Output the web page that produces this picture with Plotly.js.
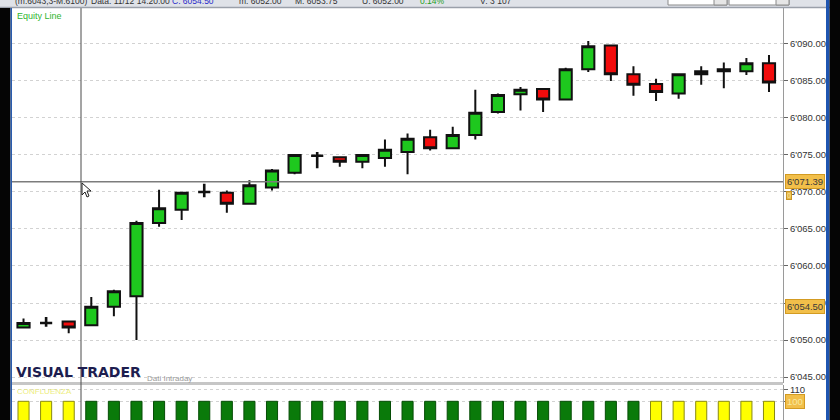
<!DOCTYPE html>
<html>
<head>
<meta charset="utf-8">
<script src="https://cdn.plot.ly/plotly-3.0.1.min.js"></script>
<style>
  html, body { margin: 0; padding: 0; background: #ffffff; }
  #chart { width: 840px; height: 420px; }
</style>
</head>
<body>
<div id="chart"></div>
<script>
// 5-minute bars of the session
const times = ['14:05','14:10','14:15','14:20','14:25','14:30','14:35','14:40','14:45','14:50','14:55',
               '15:00','15:05','15:10','15:15','15:20','15:25','15:30','15:35','15:40','15:45','15:50','15:55',
               '16:00','16:05','16:10','16:15','16:20','16:25','16:30','16:35','16:40','16:45','16:50'];

const open  = [6051.7, 6052.3, 6052.5, 6052.0, 6054.5, 6055.9, 6065.8, 6067.6, 6070.0, 6069.9, 6068.4,
               6070.6, 6072.6, 6074.9, 6074.7, 6074.1, 6074.6, 6075.4, 6077.4, 6075.9, 6077.7, 6080.8,
               6083.2, 6083.9, 6082.5, 6086.6, 6089.8, 6085.9, 6084.6, 6083.3, 6085.9, 6086.3, 6086.3, 6087.4];
const high  = [6052.9, 6053.1, 6052.5, 6055.8, 6056.8, 6066.1, 6070.3, 6070.0, 6071.1, 6070.2, 6071.6,
               6073.1, 6075.1, 6075.4, 6074.8, 6075.1, 6077.1, 6077.9, 6078.4, 6078.8, 6083.8, 6083.3,
               6084.2, 6084.0, 6086.8, 6090.4, 6089.9, 6087.0, 6085.3, 6086.0, 6087.0, 6087.5, 6088.1, 6088.5];
const low   = [6051.6, 6051.8, 6050.9, 6052.0, 6053.2, 6050.0, 6065.3, 6066.2, 6069.3, 6067.2, 6068.4,
               6070.2, 6072.4, 6073.2, 6073.4, 6073.2, 6073.4, 6072.4, 6075.6, 6075.8, 6077.1, 6080.6,
               6081.0, 6080.8, 6082.5, 6086.2, 6085.0, 6083.0, 6082.3, 6082.6, 6084.5, 6084.0, 6085.8, 6083.5];
const close = [6052.3, 6052.3, 6051.7, 6054.5, 6056.6, 6065.8, 6067.8, 6069.9, 6070.0, 6068.4, 6070.9,
               6072.9, 6075.0, 6074.9, 6074.1, 6075.0, 6075.7, 6077.2, 6075.9, 6077.7, 6080.7, 6083.1,
               6083.8, 6082.5, 6086.6, 6089.7, 6085.9, 6084.5, 6083.5, 6085.9, 6086.3, 6086.6, 6087.4, 6084.8];

// Confluence indicator (lower panel)
const confluenceLevel  = [100, 100, 100, 100, 100, 100, 100, 100, 100, 100, 100, 100, 100, 100, 100, 100, 100,
                          100, 100, 100, 100, 100, 100, 100, 100, 100, 100, 100, 100, 100, 100, 100, 100, 100];
const confluenceSignal = ['flat','flat','flat','long','long','long','long','long','long','long','long','long',
                          'long','long','long','long','long','long','long','long','long','long','long','long',
                          'long','long','long','long','flat','flat','flat','flat','flat','flat'];

// Price axis ticks and cursor readings
const priceTicks  = [6045, 6050, 6055, 6060, 6065, 6070, 6075, 6080, 6085, 6090];
const cursorPrice = 6071.39;
const cursorBar   = 3;            // bar under the vertical cursor (14:20)

// ---- geometry helpers (pixel -> paper) ----
const W = 840, H = 420, ML = 12, MR = 57, MT = 8, MB = 0;
const PW = W - ML - MR, PH = H - MT - MB;
const px = x => (x - ML) / PW;
const py = y => (H - MB - y) / PH;

const fmt = v => v.toFixed(2).replace(/\B(?=(\d{3})+(?!\d))/g, "'");

// split plain candles from dojis (open == close), which are drawn black
const isDoji = open.map((o, i) => o === close[i]);
const pick = (arr, want) => arr.map((v, i) => (isDoji[i] === want ? v : null));

const candles = {
  type: 'candlestick', x: times,
  open: pick(open, false), high: pick(high, false), low: pick(low, false), close: pick(close, false),
  increasing: { line: { color: '#111111', width: 2 }, fillcolor: '#1ec81e' },
  decreasing: { line: { color: '#111111', width: 2 }, fillcolor: '#f20c0c' },
  whiskerwidth: 0, hoverinfo: 'skip', showlegend: false, xaxis: 'x', yaxis: 'y'
};
const dojis = {
  type: 'candlestick', x: times,
  open: pick(open, true), high: pick(high, true), low: pick(low, true), close: pick(close, true),
  increasing: { line: { color: '#111111', width: 2.6 }, fillcolor: '#111111' },
  decreasing: { line: { color: '#111111', width: 2.6 }, fillcolor: '#111111' },
  whiskerwidth: 0, hoverinfo: 'skip', showlegend: false, xaxis: 'x', yaxis: 'y'
};

const signalFill = { flat: '#ffff00', long: '#0a7a0a' };
const signalEdge = { flat: '#8a8a10', long: '#064d06' };
const confluence = {
  type: 'bar', x: times, y: confluenceLevel, width: 0.49,
  marker: {
    color: confluenceSignal.map(s => signalFill[s]),
    line: { color: confluenceSignal.map(s => signalEdge[s]), width: 1 }
  },
  hoverinfo: 'skip', showlegend: false, xaxis: 'x', yaxis: 'y2'
};

const tickFont = { family: 'Liberation Sans, Arial, sans-serif', size: 9.5, color: '#333333' };

const shapes = [
  // panel separator
  { type: 'line', xref: 'paper', yref: 'paper', x0: 0, x1: 1, y0: py(383.5), y1: py(383.5),
    line: { color: '#c6c6c6', width: 3 }, layer: 'above' },
  // horizontal cursor line
  { type: 'line', xref: 'paper', yref: 'y', x0: 0, x1: 1, y0: cursorPrice, y1: cursorPrice,
    line: { color: '#7c7c7c', width: 1.6 }, layer: 'above' },
  // vertical cursor line
  { type: 'line', xref: 'paper', yref: 'paper', x0: px(81), x1: px(81), y0: 0, y1: 1,
    line: { color: '#4a4a4a', width: 1 }, layer: 'above' },
  // mouse pointer
  { type: 'path', xref: 'paper', yref: 'paper', layer: 'above',
    path: 'M' + px(82) + ',' + py(183) + ' L' + px(82) + ',' + py(195) + ' L' + px(85) + ',' + py(192) +
          ' L' + px(87) + ',' + py(197) + ' L' + px(89) + ',' + py(196) + ' L' + px(87) + ',' + py(191) +
          ' L' + px(91) + ',' + py(191) + ' Z',
    fillcolor: '#ffffff', line: { color: '#222222', width: 1 } },
  // window header strip
  { type: 'rect', xref: 'paper', yref: 'paper', x0: px(0), x1: px(840), y0: py(8), y1: py(-2),
    fillcolor: '#dfe2e8', line: { width: 0 }, layer: 'above' },
  { type: 'line', xref: 'paper', yref: 'paper', x0: px(0), x1: px(840), y0: py(7.5), y1: py(7.5),
    line: { color: '#9aa0aa', width: 1.5 }, layer: 'above' },
  // header drop-down boxes
  { type: 'rect', xref: 'paper', yref: 'paper', x0: px(668), x1: px(727), y0: py(5), y1: py(-3),
    fillcolor: '#ffffff', line: { color: '#8a8a8a', width: 1 }, layer: 'above' },
  { type: 'rect', xref: 'paper', yref: 'paper', x0: px(714), x1: px(727), y0: py(5), y1: py(-3),
    fillcolor: '#e6e6e6', line: { color: '#8a8a8a', width: 1 }, layer: 'above' },
  { type: 'rect', xref: 'paper', yref: 'paper', x0: px(729), x1: px(789), y0: py(5), y1: py(-3),
    fillcolor: '#ffffff', line: { color: '#8a8a8a', width: 1 }, layer: 'above' },
  { type: 'rect', xref: 'paper', yref: 'paper', x0: px(776), x1: px(789), y0: py(5), y1: py(-3),
    fillcolor: '#e6e6e6', line: { color: '#8a8a8a', width: 1 }, layer: 'above' },
  // window frame, left and right
  { type: 'rect', xref: 'paper', yref: 'paper', x0: px(0), x1: px(10.5), y0: py(420), y1: py(8),
    fillcolor: '#050505', line: { width: 0 }, layer: 'above' },
  { type: 'rect', xref: 'paper', yref: 'paper', x0: px(10.5), x1: px(12), y0: py(420), y1: py(8),
    fillcolor: '#2a5cae', line: { width: 0 }, layer: 'above' },
  { type: 'rect', xref: 'paper', yref: 'paper', x0: px(826), x1: px(829.5), y0: py(420), y1: py(-2),
    fillcolor: '#1f55b0', line: { width: 0 }, layer: 'above' },
  { type: 'rect', xref: 'paper', yref: 'paper', x0: px(829.5), x1: px(841), y0: py(420), y1: py(-2),
    fillcolor: '#050505', line: { width: 0 }, layer: 'above' }
];

const headerFont = { family: 'Liberation Sans, Arial, sans-serif', size: 8.5, color: '#333333' };
const hdr = (x, text, color) => ({
  xref: 'paper', yref: 'paper', x: px(x), y: py(1), xanchor: 'left', yanchor: 'middle',
  text: text, showarrow: false, font: Object.assign({}, headerFont, color ? { color: color } : {})
});

const priceTag = (value, yref, fontColor) => ({
  xref: 'paper', yref: yref, x: px(784.5), y: value, xanchor: 'left', yanchor: 'middle',
  text: yref === 'y' ? fmt(value) : String(value), showarrow: false,
  bgcolor: '#f2bf4a', bordercolor: '#d39b22', borderwidth: 1, borderpad: 1,
  font: { family: 'Liberation Sans, Arial, sans-serif', size: 9.5, color: fontColor }
});

const annotations = [
  hdr(13, '(m:6043,3-M:6100)'),
  hdr(89, 'Data: 11/12 14:20:00'),
  hdr(170, 'C: ' + close[cursorBar].toFixed(2), '#2a2ac8'),
  hdr(237, 'm: ' + low[cursorBar].toFixed(2)),
  hdr(293, 'M: 6053.75'),
  hdr(360, 'U: ' + open[cursorBar].toFixed(2)),
  hdr(418, '0.14%', '#22a022'),
  hdr(478, 'V: 3 107'),
  { xref: 'paper', yref: 'paper', x: px(15), y: py(16), xanchor: 'left', yanchor: 'middle',
    text: 'Equity Line', showarrow: false,
    font: { family: 'Liberation Sans, Arial, sans-serif', size: 9, color: '#2fb52f' } },
  { xref: 'paper', yref: 'paper', x: px(14), y: py(372), xanchor: 'left', yanchor: 'middle',
    text: '<b>VISUAL TRADER</b>', showarrow: false,
    font: { family: 'DejaVu Sans, sans-serif', size: 14, color: '#1d1d4f' } },
  { xref: 'paper', yref: 'paper', x: px(145), y: py(378), xanchor: 'left', yanchor: 'middle',
    text: 'Dati Intraday', showarrow: false,
    font: { family: 'Liberation Sans, Arial, sans-serif', size: 8, color: '#9a9a9a' } },
  { xref: 'paper', yref: 'paper', x: px(15), y: py(391), xanchor: 'left', yanchor: 'middle',
    text: 'CONFLUENZA', showarrow: false,
    font: { family: 'Liberation Sans, Arial, sans-serif', size: 8, color: '#eded80' } },
  priceTag(cursorPrice, 'y', '#3a3a3a'),
  priceTag(close[cursorBar], 'y', '#3a3a3a'),
  priceTag(100, 'y2', '#f7e9a0'),
  { xref: 'paper', yref: 'paper', x: px(786), y: py(195.5), xanchor: 'left', yanchor: 'middle',
    text: '0', showarrow: false, bgcolor: '#e9b949', bordercolor: '#c99524', borderwidth: 1, borderpad: 0,
    font: { family: 'Liberation Sans, Arial, sans-serif', size: 7, color: '#f5e6a0' } }
];

const layout = {
  width: W, height: H,
  margin: { l: ML, r: MR, t: MT, b: MB, pad: 0 },
  paper_bgcolor: '#ffffff', plot_bgcolor: '#ffffff',
  separators: ".'",
  boxgap: 0.23,
  showlegend: false,
  xaxis: {
    type: 'category', range: [-0.51, 33.62], anchor: 'y2',
    showticklabels: false, showgrid: false, zeroline: false, showline: false, ticks: '',
    rangeslider: { visible: false }, fixedrange: true
  },
  yaxis: {
    domain: [py(383), 1], side: 'right', anchor: 'x',
    range: [6044.19, 6094.86],
    tickvals: priceTicks, tickformat: ",.2f",
    ticks: 'outside', ticklen: 4, tickcolor: '#666666', tickwidth: 1,
    showline: true, linecolor: '#9a9a9a', linewidth: 1,
    showgrid: true, gridcolor: '#d2d2d2', griddash: 'dot', gridwidth: 1,
    zeroline: false, tickfont: tickFont, fixedrange: true
  },
  yaxis2: {
    domain: [0, py(384.5)], side: 'right', anchor: 'x',
    range: [84.2, 114.2],
    // the 100 level carries its own tag, so only its tick mark is kept
    tickvals: [100, 110], ticktext: ['', '110'],
    ticks: 'outside', ticklen: 4, tickcolor: '#666666',
    showline: true, linecolor: '#9a9a9a', linewidth: 1,
    showgrid: true, gridcolor: '#d2d2d2', griddash: 'dot',
    zeroline: false, tickfont: tickFont, fixedrange: true
  },
  shapes: shapes,
  annotations: annotations
};

Plotly.newPlot('chart', [confluence, candles, dojis], layout, { staticPlot: true, displayModeBar: false });
</script>
</body>
</html>
